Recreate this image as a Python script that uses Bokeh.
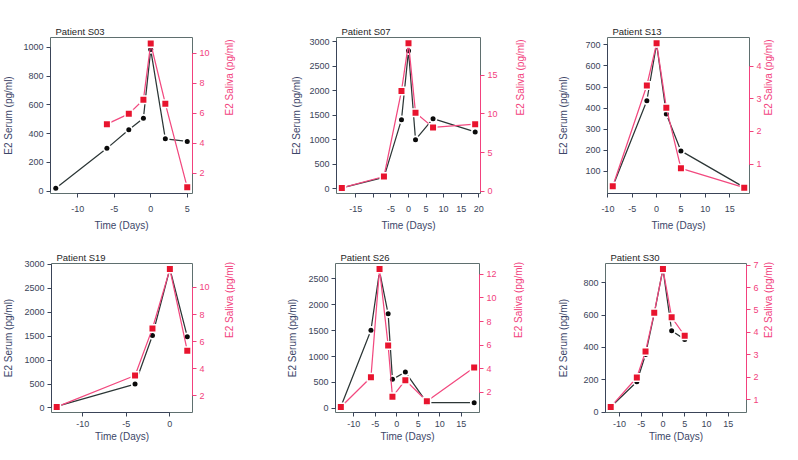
import math
from bokeh.plotting import figure
from bokeh.models import Range1d, LinearAxis, FixedTicker, Title
from bokeh.layouts import column, row
from bokeh.embed import file_html
from bokeh.resources import INLINE

# ---------------- data ----------------
patients = ["Patient S03", "Patient S07", "Patient S13", "Patient S19", "Patient S26", "Patient S30"]

s03_days_serum = [-13, -6, -3, -1, 0, 2, 5]
s03_serum = [20, 298, 427, 507, 985, 364, 346]
s03_days_saliva = [-6, -3, -1, 0, 2, 5]
s03_saliva = [5.27, 5.96, 6.9, 10.66, 6.64, 1.05]

s07_days = [-19, -7, -2, 0, 2, 7, 19]
s07_serum = [15, 230, 1410, 2820, 1000, 1430, 1160]
s07_saliva = [0.42, 1.9, 12.98, 19.17, 10.16, 8.26, 8.68]

s13_days = [-9, -2, 0, 2, 5, 18]
s13_serum = [28, 435, 705, 372, 197, 24]
s13_saliva = [0.32, 3.41, 4.7, 2.73, 0.87, 0.28]

s19_days = [-13, -4, -2, 0, 2]
s19_serum = [32, 500, 1516, 2910, 1490]
s19_saliva = [1.18, 3.5, 6.98, 11.36, 5.32]

s26_days = [-13, -6, -4, -2, -1, 2, 7, 18]
s26_serum = [30, 1508, 2650, 1825, 560, 700, 110, 110]
s26_saliva = [0.77, 3.28, 12.45, 5.98, 1.63, 3.04, 1.25, 4.11]

s30_days = [-12, -6, -4, -2, 0, 2, 5]
s30_serum = [33, 189, 357, 609, 885, 503, 450]
s30_saliva = [0.68, 1.99, 3.15, 4.88, 6.82, 4.67, 3.85]

# tick labels
x_ticks = [
    [-10, -5, 0, 5],
    [-15, -10, -5, 0, 5, 10, 15, 20],
    [-10, -5, 0, 5, 10, 15],
    [-10, -5, 0],
    [-10, -5, 0, 5, 10, 15],
    [-10, -5, 0, 5, 10, 15],
]
serum_ticks = [
    [0, 200, 400, 600, 800, 1000],
    [0, 500, 1000, 1500, 2000, 2500, 3000],
    [100, 200, 300, 400, 500, 600, 700],
    [0, 500, 1000, 1500, 2000, 2500, 3000],
    [0, 500, 1000, 1500, 2000, 2500],
    [0, 200, 400, 600, 800],
]
saliva_ticks = [
    [2, 4, 6, 8, 10],
    [0, 5, 10, 15],
    [1, 2, 3, 4],
    [2, 4, 6, 8, 10],
    [2, 4, 6, 8, 10, 12],
    [1, 2, 3, 4, 5, 6, 7],
]
hidden_x_labels = [[], [-10], [], [], [], []]

# ---------------- styling ----------------
FONT = "Liberation Sans"
SER_LINE = "#2c3636"
SER_PT = "#0a0a0a"
SAL_LINE = "#f2497f"
SAL_PT = "#e8142e"
PINK = "#f2417d"
LEFT_TXT = "#3a4458"
LEFT_LAB = "#3c4668"
FRAME = "#5f6f6f"

# per-panel layout: width, height, borders (l, r, t, b), ranges, standoffs
layout = [
    dict(w=262, h=236, bl=45, br=70, bt=37, bb=42, xr=(-13.72, 5.72), yr=(-16, 1069), y2r=(0.64, 11.06), ls=6, rs=17, s1=8, s2=5),
    dict(w=272, h=236, bl=74, br=50, bt=33, bb=43, xr=(-20.52, 20.52), yr=(-100, 3090), y2r=(-0.3, 19.9), ls=4, rs=20, s1=8, s2=5),
    dict(w=248, h=236, bl=73, br=28, bt=32, bb=43, xr=(-10.08, 19.08), yr=(-5, 735), y2r=(0.1, 4.88), ls=13, rs=4, s1=8, s2=5),
    dict(w=262, h=208, bl=46, br=70, bt=22, bb=28, xr=(-13.6, 2.6), yr=(-95, 3020), y2r=(0.77, 11.77), ls=7, rs=17, s1=4, s2=1),
    dict(w=270, h=208, bl=73, br=50, bt=27, bb=27, xr=(-14.24, 19.24), yr=(-80, 2795), y2r=(0.3, 12.92), ls=7, rs=19, s1=4, s2=1),
    dict(w=250, h=208, bl=73, br=31, bt=26, bb=28, xr=(-13.2, 19.2), yr=(-1, 918), y2r=(0.43, 7.07), ls=11, rs=7, s1=4, s2=1),
]

series = [
    (s03_days_serum, s03_serum, s03_days_saliva, s03_saliva),
    (s07_days, s07_serum, s07_days, s07_saliva),
    (s13_days, s13_serum, s13_days, s13_saliva),
    (s19_days, s19_serum, s19_days, s19_saliva),
    (s26_days, s26_serum, s26_days, s26_saliva),
    (s30_days, s30_serum, s30_days, s30_saliva),
]


def labels_for(ticks, hidden=()):
    return {t: ("" if t in hidden else str(t)) for t in ticks}


def style_axis(ax, ticks, label, txt_color, lab_color, label_standoff, tick_standoff, hidden=()):
    ax.ticker = FixedTicker(ticks=ticks)
    ax.major_label_overrides = labels_for(ticks, hidden)
    ax.bounds = (ticks[0], ticks[-1])
    ax.axis_label = label
    ax.axis_label_text_font = FONT
    ax.axis_label_text_font_size = "10px"
    ax.axis_label_text_font_style = "normal"
    ax.axis_label_text_color = lab_color
    ax.axis_label_standoff = label_standoff
    ax.major_label_text_font = FONT
    ax.major_label_text_font_size = "9px"
    ax.major_label_text_color = txt_color
    ax.major_label_standoff = tick_standoff
    ax.major_tick_out = 4
    ax.major_tick_in = 0
    ax.minor_tick_out = 0
    ax.minor_tick_in = 0
    ax.axis_line_color = txt_color
    ax.major_tick_line_color = txt_color


def make_panel(i):
    L = layout[i]
    dser, ser, dsal, sal = series[i]
    p = figure(width=L["w"], height=L["h"], output_backend="svg", toolbar_location=None,
               x_range=Range1d(*L["xr"]), y_range=Range1d(*L["yr"]),
               min_border_left=L["bl"], min_border_right=L["br"],
               min_border_top=L["bt"], min_border_bottom=L["bb"],
               background_fill_color="white", border_fill_color="white")
    p.title = Title(text=patients[i], align="left", offset=5, standoff=2,
                    text_font=FONT, text_font_size="9.5px", text_font_style="normal",
                    text_color="#262626")
    p.extra_y_ranges = {"sal": Range1d(*L["y2r"])}
    p.xgrid.visible = False
    p.ygrid.visible = False
    p.outline_line_color = FRAME
    p.outline_line_width = 1

    style_axis(p.xaxis[0], x_ticks[i], "Time (Days)", LEFT_TXT, LEFT_LAB, L["s2"], L["s1"], hidden_x_labels[i])
    style_axis(p.yaxis[0], serum_ticks[i], "E2 Serum (pg/ml)", LEFT_TXT, LEFT_LAB, L["ls"], 3)

    ra = LinearAxis(y_range_name="sal")
    style_axis(ra, saliva_ticks[i], "E2 Saliva (pg/ml)", PINK, PINK, L["rs"], 3)
    try:
        ra.axis_label_orientation = math.pi / 2
    except Exception:
        pass
    p.add_layout(ra, "right")

    # serum series (black) - lines broken around points like R type="b"
    p.line(dser, ser, line_color=SER_LINE, line_width=1.25)
    p.scatter(dser, ser, marker="circle", size=8.5, fill_color="white", line_color=None)
    p.scatter(dser, ser, marker="circle", size=5, fill_color=SER_PT, line_color=None)

    # saliva series (pink/red)
    p.line(dsal, sal, line_color=SAL_LINE, line_width=1.25, y_range_name="sal")
    p.scatter(dsal, sal, marker="square", size=9, fill_color="white", line_color=None, y_range_name="sal")
    p.scatter(dsal, sal, marker="square", size=6, fill_color=SAL_PT, line_color=None, y_range_name="sal")
    return p


figs = [make_panel(i) for i in range(6)]
layout_obj = column(row(*figs[:3]), row(*figs[3:]))

open("out.html", "w").write(file_html(layout_obj, INLINE))
